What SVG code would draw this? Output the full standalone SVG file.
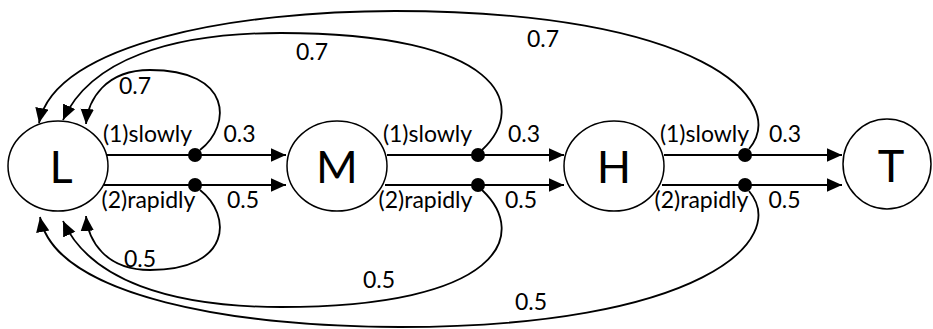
<svg xmlns="http://www.w3.org/2000/svg" width="933" height="329" viewBox="0 0 933 329">
<style>
.node{fill:#fff;stroke:#000;stroke-width:1.5}
.big{font-family:Lato,"Liberation Sans",sans-serif;font-size:45px;text-anchor:middle;fill:#000}
.lbl{font-family:Lato,"Liberation Sans",sans-serif;font-size:23px;text-anchor:middle;fill:#000}
.edge{fill:none;stroke:#000;stroke-width:1.8}
.arr{marker-end:url(#ah)}
.dot{fill:#000}
</style>
<defs>
<marker id="ah" markerUnits="userSpaceOnUse" markerWidth="16" markerHeight="14" refX="15" refY="6.7" orient="auto">
<path d="M0,0 L15,6.7 L0,13.4 z" fill="#000"/>
</marker>
</defs>
<rect width="933" height="329" fill="#fff"/>
<g id="connectors">
<path class="edge arr" d="M107,155 H286"/>
<path class="edge arr" d="M104,185 H286"/>
<path class="edge arr" d="M387,155 H564"/>
<path class="edge arr" d="M385,185 H564"/>
<path class="edge arr" d="M664,155 H842"/>
<path class="edge arr" d="M662,185 H842"/>
<path class="edge arr" d="M200,150 C232,125 232,70 150,70 C105,70 88,100 86,124"/>
<path class="edge arr" d="M200,190 C232,215 232,270 150,270 C105,270 88,240 86,216"/>
<path class="edge arr" d="M482,150 C530,105 500,33 281,33 C170,33 90,60 63,120"/>
<path class="edge arr" d="M482,190 C530,235 500,307 281,307 C170,307 90,280 63,221"/>
<path class="edge arr" d="M749,149 C790,100 700,11 395,11 C240,11 55,42 39,123"/>
<path class="edge arr" d="M749,191 C790,240 700,327 400,327 C240,327 55,298 40,217"/>
<circle class="dot" cx="195" cy="155" r="7"/>
<circle class="dot" cx="195" cy="185" r="7"/>
<circle class="dot" cx="478" cy="155" r="7"/>
<circle class="dot" cx="478" cy="185" r="7"/>
<circle class="dot" cx="745" cy="155" r="7"/>
<circle class="dot" cx="745" cy="185" r="7"/>
<text class="lbl" x="147.5" y="142">(1)slowly</text>
<text class="lbl" x="239.5" y="142">0.3</text>
<text class="lbl" x="148.5" y="208">(2)rapidly</text>
<text class="lbl" x="243" y="208">0.5</text>
<text class="lbl" x="135" y="94">0.7</text>
<text class="lbl" x="140" y="267">0.5</text>
<text class="lbl" x="427.5" y="142">(1)slowly</text>
<text class="lbl" x="524" y="142">0.3</text>
<text class="lbl" x="425.5" y="208">(2)rapidly</text>
<text class="lbl" x="521" y="208">0.5</text>
<text class="lbl" x="704.5" y="142">(1)slowly</text>
<text class="lbl" x="785" y="142">0.3</text>
<text class="lbl" x="701.5" y="208">(2)rapidly</text>
<text class="lbl" x="784.5" y="208">0.5</text>
<text class="lbl" x="312" y="60">0.7</text>
<text class="lbl" x="543" y="47">0.7</text>
<text class="lbl" x="379" y="288">0.5</text>
<text class="lbl" x="531" y="310">0.5</text>
</g>
<g id="node-L"><ellipse class="node" cx="58" cy="166" rx="50" ry="45"/><text class="big" x="61" y="183">L</text></g>
<g id="node-M"><ellipse class="node" cx="337" cy="166" rx="50" ry="45"/><text class="big" x="337" y="183">M</text></g>
<g id="node-H"><ellipse class="node" cx="614" cy="166" rx="50" ry="45"/><text class="big" x="614" y="183">H</text></g>
<g id="node-T"><ellipse class="node" cx="887" cy="164" rx="44" ry="45"/><text class="big" x="891" y="182">T</text></g>
</svg>
